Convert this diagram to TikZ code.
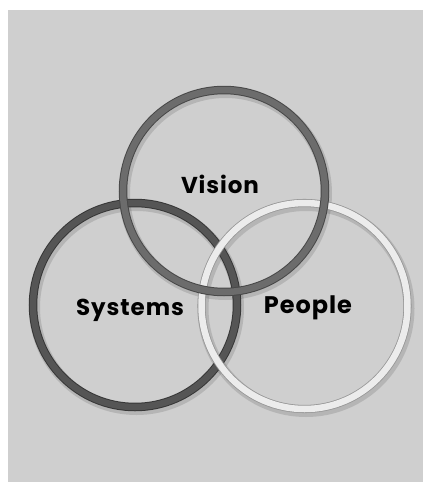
\documentclass[tikz,border=0pt]{standalone}
\usepackage{fontspec}
\setmainfont{Poppins}
\newfontfamily\ringfont{Poppins}[LetterSpace = 4]

\definecolor{bggray}{RGB}{207,207,207}
\definecolor{sysfill}{RGB}{85,85,85}
\definecolor{sysedge}{RGB}{55,55,55}
\definecolor{visfill}{RGB}{108,108,108}
\definecolor{visedge}{RGB}{72,72,72}
\definecolor{peofill}{RGB}{236,236,236}
\definecolor{peoedge}{RGB}{150,150,150}

\tikzset{
  ringshadow/.style = {black, opacity = 0.12, line width = 11},
  label/.style = {anchor = base, font = \ringfont\fontsize{23}{23}\selectfont\bfseries, inner sep = 0}
}

\begin{document}
\begin{tikzpicture} [x = 1pt, y = -1pt]
\useasboundingbox (0, 0) rectangle (423, 482);
\fill[white] (0, 0) rectangle (423, 482);
\fill[bggray] (8, 10) rectangle (423, 482);
% shadows of the rings
\draw[ringshadow] (136.5, 307.5) circle [radius = 102];
\draw[ringshadow] (306, 308.5) circle [radius = 103];
\draw[ringshadow] (225.5, 193.5) circle [radius = 101];
% rings, bottom one first
\draw[sysedge, double = sysfill, double distance = 6.5, line width = 1] (135, 305) circle [radius = 102];
\draw[peoedge, double = peofill, double distance = 6.5, line width = 0.8] (304.5, 306) circle [radius = 103];
\draw[visedge, double = visfill, double distance = 6.5, line width = 1] (224, 191) circle [radius = 101];
% labels
\node[label] (vision) at (220, 193) {Vision};
\node[label] (systems) at (130, 315) {Systems};
\node[label, font = \ringfont\fontsize{24}{24}\selectfont\bfseries] (people) at (308, 313) {People};
\end{tikzpicture}
\end{document}
